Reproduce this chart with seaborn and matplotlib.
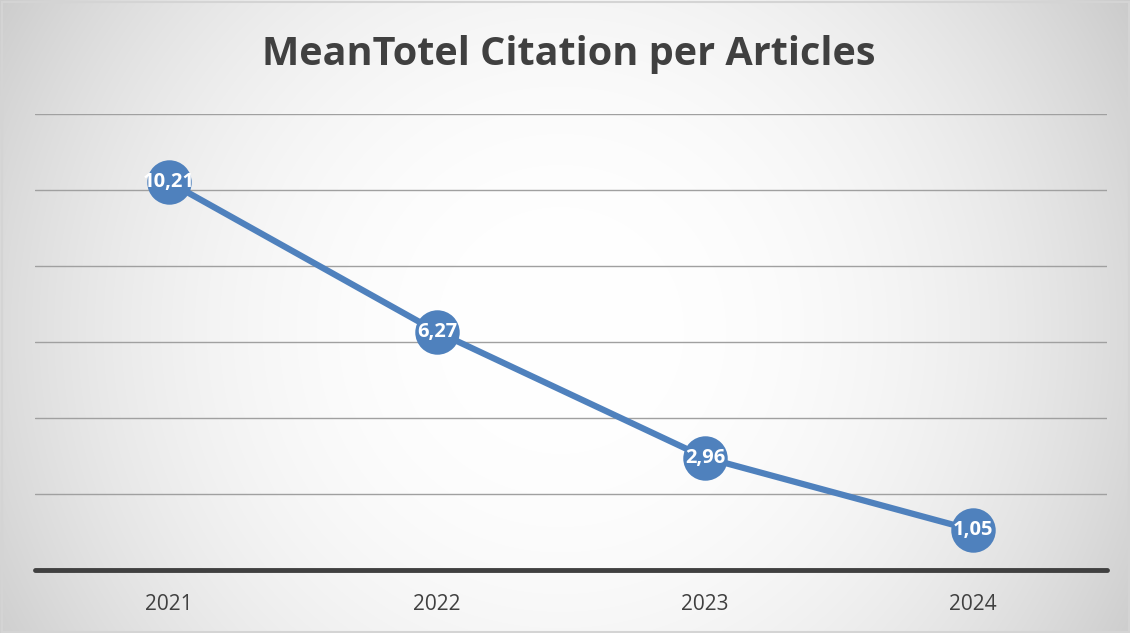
import numpy as np
import pandas as pd
import matplotlib
matplotlib.use("Agg")
import matplotlib.pyplot as plt
import seaborn as sns

years = ["2021", "2022", "2023", "2024"]
values = [10.21, 6.27, 2.96, 1.05]
labels = ["10,21", "6,27", "2,96", "1,05"]

sns.set_style("white")
plt.rcParams["font.family"] = ["Open Sans", "DejaVu Sans"]

W, H = 1130, 633
fig = plt.figure(figsize=(W / 100, H / 100), dpi=100)

# radial gradient background
bg = fig.add_axes([0, 0, 1, 1], zorder=-10)
yy, xx = np.mgrid[0:H, 0:W]
cx, cy = 560, 330
d = np.sqrt((xx - cx) ** 2 + (yy - cy) ** 2)
shade = 1.0 - 0.04 * (d / 330.0) ** 2.36
shade = np.clip(shade, 0, 1)
img = np.dstack([shade, shade, shade])
bg.imshow(img, aspect="auto", extent=[0, W, H, 0], interpolation="bilinear")
bg.set_xlim(0, W)
bg.set_ylim(H, 0)
bg.add_patch(plt.Rectangle((1.5, 1.5), W - 3, H - 3, fill=False, ec="#d4d4d4", lw=1.5))
bg.axis("off")

ax = fig.add_axes([35 / W, 63 / H, 1072 / W, 456 / H])
ax.set_facecolor("none")

df = pd.DataFrame({"pos": np.arange(len(years)), "value": values})
sns.lineplot(data=df, x="pos", y="value", ax=ax, color="#4F81BD", linewidth=4.5,
             marker="o", markersize=32, markeredgewidth=0, zorder=5)

for x, v, lab in zip(df["pos"], values, labels):
    ax.text(x, v, lab, ha="center", va="center", color="white", fontsize=14.5,
            fontweight="bold", zorder=6)

ax.set_xlim(-0.5, 3.5)
ax.set_ylim(0, 12)
ax.set_yticks(np.arange(2, 13, 2))
ax.yaxis.grid(True, color="#a0a0a0", linewidth=1.0)
ax.set_axisbelow(True)
ax.set_yticklabels([])
ax.tick_params(axis="y", length=0)
ax.axhline(0, color="#404040", linewidth=3.5, zorder=3, clip_on=False)
ax.set_xticks(df["pos"])
ax.set_xticklabels(years, fontsize=15, color="#404040")
ax.tick_params(axis="x", length=0, pad=17)
ax.set_xlabel("")
ax.set_ylabel("")
for s in ax.spines.values():
    s.set_visible(False)

fig.text(0.503, 1 - 55 / H, "MeanTotel Citation per Articles", ha="center", va="center",
         fontsize=28.5, fontweight="bold", color="#404040")

fig.savefig("out.png", dpi=100)
